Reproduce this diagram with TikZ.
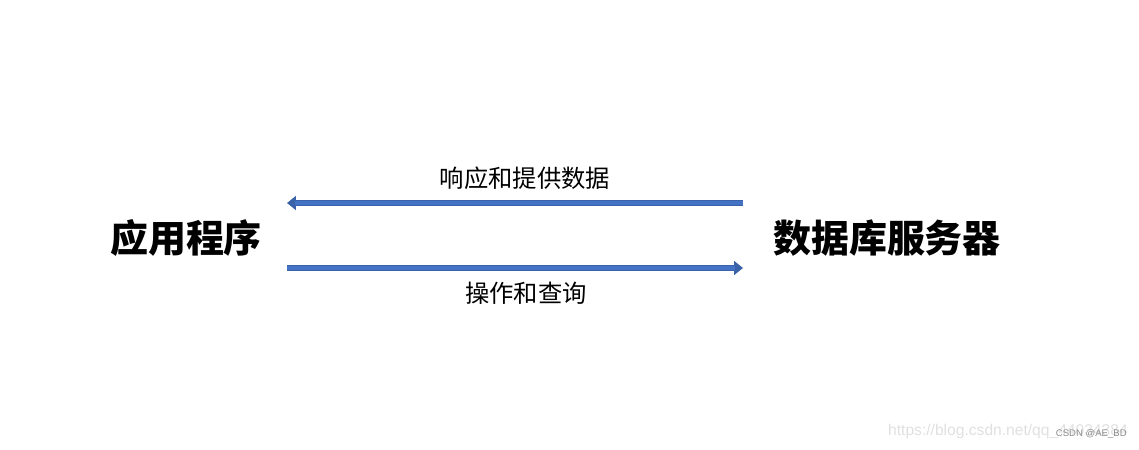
\documentclass[tikz,border=0pt]{standalone}
\usepackage{fontspec}
\newfontfamily\cjk{Noto Sans CJK SC}
\newfontfamily\wmfont{Liberation Sans}
\usepackage{tikz}
\usetikzlibrary{arrows.meta, positioning}

\definecolor{arrowblue}{HTML}{4472C4}
\definecolor{arrowedge}{HTML}{3A62A8}

\tikzset{
    endpoint/.style={font=\cjk\bfseries\fontsize{27}{30}\selectfont, inner sep=0pt},
    msg/.style={font=\cjk\fontsize{17.3}{20}\selectfont, inner sep=0pt},
    flow/.style={arrowedge, line width=3.9pt, -{Triangle[width=0.34cm, length=0.22cm]}},
}

\begin{document}
\begin{tikzpicture}[x=0.025cm, y=-0.025cm]
        \useasboundingbox (0,0) rectangle (1139,449);
        % Hai đầu
        \node[endpoint] (app) at (186,238) {应用程序};
        \node[endpoint] (db) at (887,238) {数据库服务器};

        % Mũi tên
        \coordinate (appTop) at (287,203);
        \coordinate (dbTop) at (743,203);
        \coordinate (appBot) at (287,268);
        \coordinate (dbBot) at (743,268);
        \draw[flow] (dbTop) -- (appTop);
        \draw[flow] (appBot) -- (dbBot);
        \draw[arrowblue, line width=2.5pt, shorten >=0.2cm] (dbTop) -- (appTop);
        \draw[arrowblue, line width=2.5pt, shorten >=0.2cm] (appBot) -- (dbBot);

        \node[msg] (reply) at (525,178) {响应和提供数据};
        \node[msg] (query) at (526,293) {操作和查询};

        % Watermark
        \node[font=\wmfont\fontsize{11.1}{12}\selectfont, text=black!12, anchor=east, inner sep=0pt] (url) at (1128,431) {https://blog.csdn.net/qq\_44034384};
        \node[font=\wmfont\fontsize{6.8}{8}\selectfont, text=black!45, anchor=east, inner sep=0pt] (csdn) at (1127,434) {CSDN @AE\_BD};
    \end{tikzpicture}
\end{document}
